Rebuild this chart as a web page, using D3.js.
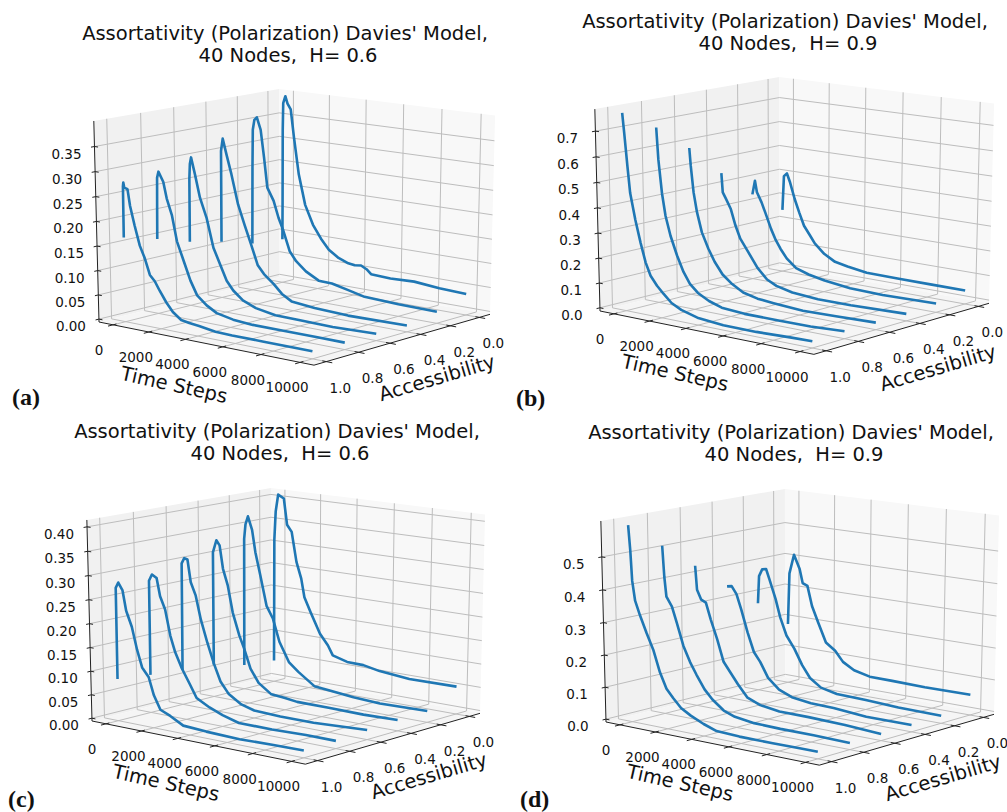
<!DOCTYPE html>
<html><head><meta charset="utf-8">
<script src="https://cdn.jsdelivr.net/npm/d3@7"></script>
<style>html,body{margin:0;padding:0;background:#fff}svg{display:block}text{font-family:"DejaVu Sans";fill:#111}</style>
</head><body><svg id="c" width="1007" height="812"></svg>
<script>
// Accessibility levels in drawing order (back to front)
const levels=[0,0.2,0.4,0.6,0.8,1.0];
const timeTicks=[0,2000,4000,6000,8000,10000];
const accTicks=[0,0.2,0.4,0.6,0.8,1.0];
const zTicksA=[0,.05,.1,.15,.2,.25,.3,.35];
const zTicksB=[0,.1,.2,.3,.4,.5,.6,.7];
const zTicksC=[0,.05,.1,.15,.2,.25,.3,.35,.4];
const zTicksD=[0,.1,.2,.3,.4,.5];
const titleLine1="Assortativity (Polarization) Davies' Model,";

// Panel (a) [time, assortativity]
const a00=[[0,.088],[15,.172],[30,.323],[60,.379],[180,.394],[300,.379],[480,.368],[660,.310],[930,.233],[1290,.170],[1730,.130],[2180,.103],[2620,.082],[3160,.068],[3700,.060],[4050,.058],[4400,.060],[4700,.054],[4950,.045],[6000,.043],[7270,.045],[8600,.040],[10000,.038]];
const a02=[[0,.094],[30,.255],[60,.335],[150,.356],[290,.362],[500,.337],[680,.281],[860,.218],[1210,.192],[1480,.158],[1750,.132],[2100,.091],[2460,.072],[3000,.054],[3710,.039],[4430,.038],[5320,.030],[6200,.022],[8000,.019],[10000,.018]];
const a04=[[0,.113],[20,.303],[120,.329],[320,.298],[590,.258],[950,.197],[1300,.157],[1660,.118],[2020,.077],[2370,.060],[2900,.043],[3360,.025],[3890,.013],[5140,.008],[6930,.005],[10000,.007]];
const a06=[[0,.128],[20,.258],[60,.289],[130,.303],[340,.269],[600,.223],[960,.183],[1320,.124],[1680,.092],[2040,.060],[2400,.042],[2930,.025],[3640,.014],[4700,.007],[5960,.006],[7750,.005],[10000,.008]];
const a08=[[0,.149],[20,.203],[50,.274],[130,.287],[390,.268],[570,.235],[840,.203],[1100,.151],[1460,.113],[1820,.075],[2180,.047],[2700,.030],[3250,.018],[4140,.011],[5200,.008],[6820,.008],[8600,.008],[10000,.008]];
const a10=[[0,.167],[15,.27],[40,.278],[90,.268],[265,.266],[390,.233],[620,.195],[885,.156],[1150,.132],[1415,.100],[1680,.089],[1950,.071],[2300,.050],[2650,.033],[3100,.020],[3540,.017],[4070,.015],[4950,.010],[5840,.009],[7500,.009],[10000,.009]];
// Panel (b)
const b00=[[0,.248],[90,.391],[260,.404],[440,.368],[700,.302],[960,.248],[1230,.196],[1580,.158],[1840,.129],[2370,.092],[2980,.066],[3680,.056],[4740,.044],[6490,.042],[8250,.042],[10000,.042]];
const b02=[[0,.341],[150,.399],[260,.353],[520,.314],[790,.262],[1050,.210],[1320,.166],[1580,.134],[1930,.098],[2460,.064],[3160,.047],[4040,.034],[5440,.021],[7190,.018],[10000,.023]];
const b04=[[0,.456],[70,.378],[250,.353],[510,.316],[770,.251],[1040,.199],[1470,.151],[2000,.091],[2530,.050],[3050,.031],[3930,.016],[5330,.008],[7090,.008],[10000,.015]];
const b06=[[0,.583],[70,.512],[210,.407],[390,.328],[650,.250],[1000,.189],[1350,.139],[1790,.093],[2320,.061],[2930,.035],[3720,.021],[4600,.015],[6180,.007],[7930,.010],[10000,.015]];
const b08=[[0,.689],[90,.563],[260,.432],[440,.343],[700,.267],[1050,.192],[1400,.130],[1750,.087],[2190,.056],[2800,.032],[3500,.015],[4740,.008],[6490,.008],[8250,.009],[10000,.016]];
const b10=[[0,.770],[90,.692],[230,.563],[350,.461],[610,.358],[880,.270],[1140,.196],[1400,.147],[1750,.112],[2100,.085],[2540,.054],[3070,.034],[3950,.016],[5350,.006],[7100,.006],[8860,.011],[10000,.013]];
// Panel (c)
const c00=[[0,.041],[30,.310],[110,.372],[250,.409],[570,.402],[750,.346],[1010,.332],[1280,.268],[1550,.233],[1730,.193],[2080,.162],[2610,.118],[3060,.095],[3330,.075],[4130,.066],[5020,.065],[5910,.058],[7510,.052],[10000,.053]];
const c02=[[0,.047],[30,.324],[110,.356],[250,.374],[480,.346],[660,.299],[930,.251],[1280,.186],[1640,.160],[2000,.112],[2530,.071],[3060,.053],[3950,.028],[4840,.024],[6090,.019],[7510,.016],[10000,.018]];
const c04=[[0,.064],[10,.308],[210,.335],[390,.325],[570,.276],[830,.242],[1100,.185],[1460,.138],[1730,.111],[2080,.070],[2530,.042],[3240,.022],[3950,.020],[4660,.016],[6440,.016],[8220,.015],[10000,.017]];
const c06=[[0,.069],[30,.298],[180,.310],[360,.308],[530,.261],[800,.234],[1070,.185],[1420,.138],[1780,.095],[2140,.059],[2580,.036],[3290,.018],[4000,.010],[5420,.008],[7200,.008],[10000,.014]];
const c08=[[0,.075],[10,.275],[180,.289],[440,.283],[620,.246],[890,.220],[1160,.166],[1420,.133],[1780,.101],[2220,.070],[2580,.044],[3290,.029],[4000,.018],[4890,.008],[6670,.008],[8450,.010],[10000,.010]];
const c10=[[0,.083],[10,.274],[160,.286],[390,.271],[570,.230],[870,.198],[1140,.152],[1400,.117],[1760,.099],[2030,.063],[2380,.035],[2920,.026],[3630,.011],[4880,.008],[6660,.006],[8440,.008],[10000,.009]];
// Panel (d)
const d00=[[0,.184],[90,.350],[350,.412],[670,.369],[840,.325],[1110,.318],[1370,.255],[1720,.205],[2160,.144],[2680,.122],[3120,.090],[3740,.069],[4610,.057],[5840,.056],[7600,.054],[10000,.055]];
const d02=[[0,.273],[70,.361],[250,.384],[470,.387],[650,.357],[1000,.296],[1260,.239],[1610,.184],[2050,.146],[2490,.097],[2930,.060],[3540,.035],[4420,.024],[6000,.021],[7750,.016],[10000,.015]];
const d04=[[0,.348],[260,.351],[530,.328],[790,.282],[1140,.212],[1490,.153],[1840,.125],[2280,.078],[2890,.047],[3600,.030],[4650,.022],[5880,.020],[7630,.012],[10000,.012]];
const d06=[[0,.433],[90,.359],[320,.330],[580,.323],[840,.273],[1190,.214],[1540,.146],[1890,.118],[2330,.083],[2860,.046],[3560,.030],[4610,.021],[6190,.021],[8120,.018],[10000,.011]];
const d08=[[0,.514],[90,.419],[190,.359],[490,.331],[750,.283],[1100,.215],[1460,.168],[1810,.132],[2250,.091],[2680,.064],[3300,.036],[3910,.023],[4960,.015],[6370,.013],[8120,.013],[10000,.011]];
const d10=[[0,.595],[90,.519],[160,.428],[300,.369],[560,.326],[910,.275],[1260,.228],[1610,.162],[1960,.115],[2320,.090],[2750,.064],[3280,.046],[3980,.028],[4680,.014],[5910,.011],[7670,.011],[9070,.012],[10000,.012]];

const panels=[
 {tag:"(a)",tagXY:[12,405],h:"40 Nodes,  H= 0.6",title:[285,40],curves:[a00,a02,a04,a06,a08,a10],zTicks:zTicksA,zFmt:".2f",zDom:[-0.006,0.4005],
  L:[99,322],R:[490,313],BT:[278,89],tl:[174,383],al:[437,378]},
 {tag:"(b)",tagXY:[516,406],h:"40 Nodes,  H= 0.9",title:[785,28],curves:[b00,b02,b04,b06,b08,b10],zTicks:zTicksB,zFmt:".1f",zDom:[-0.013,0.785],
  L:[600,311],R:[989,303],BT:[779,77],tl:[675,371],al:[938,368]},
 {tag:"(c)",tagXY:[8,807],h:"40 Nodes,  H= 0.6",title:[277,438],curves:[c00,c02,c04,c06,c08,c10],zTicks:zTicksC,zFmt:".2f",zDom:[-0.006,0.414],
  L:[92,721],R:[480,713],BT:[271,488],tl:[166,781],al:[429,776]},
 {tag:"(d)",tagXY:[520,807],h:"40 Nodes,  H= 0.9",title:[791,439],curves:[d00,d02,d04,d06,d08,d10],zTicks:zTicksD,zFmt:".1f",zDom:[-0.009,0.608],
  L:[606,722],R:[994,714],BT:[784,489],tl:[680,781],al:[943,778]}
];

const tDom=[-800,10700];
const elev=15*Math.PI/180, azim=40*Math.PI/180, dist=10;
const n=[Math.cos(azim)*Math.cos(elev),Math.sin(azim)*Math.cos(elev),Math.sin(elev)];
const un=Math.hypot(-n[1],n[0]);
const u=[-n[1]/un,n[0]/un,0];
const v=[n[1]*u[2]-n[2]*u[1],n[2]*u[0]-n[0]*u[2],n[0]*u[1]-n[1]*u[0]];
function project(X,Y,Z){
  const p=[X-.5-dist*n[0],Y-.5-dist*n[1],Z-.5-dist*n[2]];
  const d=-(p[0]*n[0]+p[1]*n[1]+p[2]*n[2]);
  return [(p[0]*u[0]+p[1]*u[1]+p[2]*u[2])/d,(p[0]*v[0]+p[1]*v[1]+p[2]*v[2])/d];
}
const svg=d3.select("#c");
const aX=d3.scaleLinear([-0.075,1.075],[0,1]);
const tY=d3.scaleLinear(tDom,[0,1]);

panels.forEach(P=>{
  const g=svg.append("g");
  const zZ=d3.scaleLinear(P.zDom,[0,1]);
  const pL=project(1,0,0), pR=project(0,1,0), pBT=project(0,0,1);
  const sx=d3.scaleLinear([pL[0],pR[0]],[P.L[0],P.R[0]]);
  const sy=d3.scaleLinear([pL[1],pBT[1]],[P.L[1],P.BT[1]]);
  const pt=(a,t,z)=>{const q=project(aX(a),tY(t),zZ(z));return [sx(q[0]),sy(q[1])];};
  const [z0,z1]=P.zDom, a0=-0.075,a1=1.075,t0=tDom[0],t1=tDom[1];
  const line=d3.line();
  const poly=(pts,fill)=>g.append("path").attr("d",line(pts)+"Z").attr("fill",fill).attr("stroke","none");
  poly([pt(a1,t0,z0),pt(a0,t0,z0),pt(a0,t0,z1),pt(a1,t0,z1)],"#f1f1f1");
  poly([pt(a0,t0,z0),pt(a0,t1,z0),pt(a0,t1,z1),pt(a0,t0,z1)],"#f8f8f8");
  poly([pt(a1,t0,z0),pt(a1,t1,z0),pt(a0,t1,z0),pt(a0,t0,z0)],"#f5f5f5");
  const grid=pts=>g.append("path").attr("d",line(pts)).attr("fill","none").attr("stroke","#bdbdbd").attr("stroke-width",1);
  timeTicks.forEach(t=>grid([pt(a1,t,z0),pt(a0,t,z0),pt(a0,t,z1)]));
  accTicks.forEach(a=>grid([pt(a,t1,z0),pt(a,t0,z0),pt(a,t0,z1)]));
  P.zTicks.forEach(z=>grid([pt(a1,t0,z),pt(a0,t0,z),pt(a0,t1,z)]));
  const ax=pts=>g.append("path").attr("d",line(pts)).attr("fill","none").attr("stroke","#222").attr("stroke-width",1);
  ax([pt(a1,t0,z0),pt(a1,t0,z1)]);
  ax([pt(a1,t0,z0),pt(a1,t1,z0)]);
  ax([pt(a1,t1,z0),pt(a0,t1,z0)]);
  const label=(xy,txt)=>g.append("text").attr("x",xy[0]).attr("y",xy[1]).attr("text-anchor","middle").attr("font-size",13.5).attr("dominant-baseline","central").text(txt);
  const f1=d3.format(".1f"), fz=d3.format(P.zFmt);
  timeTicks.forEach(t=>{
    ax([pt(a1,t,z0),pt(a1+0.03,t,z0)]);ax([pt(a1,t,z0),pt(a1-0.02,t,z0)]);
    const q=pt(a1,t,z0);label([q[0]-13-(t==0?1:0),q[1]+25],String(t));
  });
  accTicks.forEach(a=>{
    ax([pt(a,t1,z0),pt(a,t1+300,z0)]);ax([pt(a,t1,z0),pt(a,t1-200,z0)]);
    const q=pt(a,t1,z0);label([q[0]+14,q[1]+26],f1(a));
  });
  P.zTicks.forEach(z=>{
    ax([pt(a1,t0,z),pt(a1,t0+200,z)]);ax([pt(a1,t0,z),pt(a1+0.02,t0,z)]);
    const q=pt(a1,t0,z);label([q[0]-28,q[1]+7],fz(z));
  });
  const curve=d3.line().x(d=>d.xy[0]).y(d=>d.xy[1]);
  P.curves.forEach((c,i)=>{
    g.append("path").datum(c.map(d=>({xy:pt(levels[i],d[0],d[1])}))).attr("d",curve)
     .attr("fill","none").attr("stroke","#1f77b4").attr("stroke-width",2.6).attr("stroke-linejoin","round");
  });
  g.append("text").attr("x",P.title[0]).attr("y",P.title[1]).attr("text-anchor","middle").attr("font-size",19.5).text(titleLine1);
  g.append("text").attr("x",P.title[0]+3).attr("y",P.title[1]+22).attr("text-anchor","middle").attr("font-size",19.5).style("white-space","pre").text(P.h);
  g.append("text").attr("transform",`translate(${P.tl[0]},${P.tl[1]+2}) rotate(12.5)`).attr("text-anchor","middle").attr("dominant-baseline","central").attr("font-size",19.5).text("Time Steps");
  g.append("text").attr("transform",`translate(${P.al[0]},${P.al[1]}) rotate(-16.5)`).attr("text-anchor","middle").attr("dominant-baseline","central").attr("font-size",19.5).text("Accessibility");
  g.append("text").attr("x",P.tagXY[0]).attr("y",P.tagXY[1]).attr("font-size",24).attr("font-weight","bold").style("font-family","'Liberation Serif'").text(P.tag);
});
</script></body></html>
